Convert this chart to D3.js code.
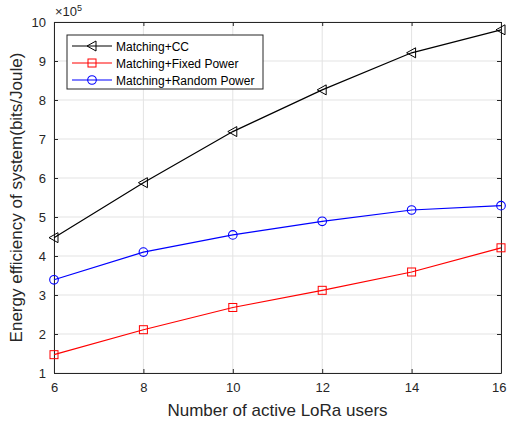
<!DOCTYPE html>
<html>
<head>
<meta charset="utf-8">
<script src="https://cdn.jsdelivr.net/npm/d3@7"></script>
<style>
body { margin:0; background:#fff; }
text { font-family: "Liberation Sans", Arial, sans-serif; }
</style>
</head>
<body>
<script>
// data (x 10^5 bits/Joule)
var users = [6, 8, 10, 12, 14, 16];
var ccVals = [4.47, 5.88, 7.19, 8.26, 9.21, 9.80];
var fixedVals = [1.47, 2.11, 2.68, 3.12, 3.59, 4.21];
var randomVals = [3.39, 4.10, 4.54, 4.89, 5.18, 5.29];
var xTicks = [6, 8, 10, 12, 14, 16];
var yTicks = [1, 2, 3, 4, 5, 6, 7, 8, 9, 10];
var seriesNames = ["Matching+CC", "Matching+Fixed Power", "Matching+Random Power"];

var W = 507, H = 426;
// note: "top" is taken by window.top, so pTop etc.
var pLeft = 54, pRight = 501, pTop = 22, pBottom = 373;

var svg = d3.select('body').append('svg').attr('width', W).attr('height', H);

var x = d3.scaleLinear().domain([6, 16]).range([pLeft, pRight]);
var y = d3.scaleLinear().domain([1, 10]).range([pBottom, pTop]);

// grid
svg.append('g').selectAll('line').data(xTicks).enter().append('line')
  .attr('x1', d => x(d)).attr('x2', d => x(d)).attr('y1', pTop).attr('y2', pBottom)
  .attr('stroke', '#e3e3e3').attr('stroke-width', 1);
svg.append('g').selectAll('line').data(yTicks).enter().append('line')
  .attr('y1', d => y(d)).attr('y2', d => y(d)).attr('x1', pLeft).attr('x2', pRight)
  .attr('stroke', '#e3e3e3').attr('stroke-width', 1);

// axes (inward ticks)
var axB = svg.append('g').attr('transform', 'translate(0,' + pBottom + ')')
  .call(d3.axisBottom(x).tickValues(xTicks).tickSizeInner(-4).tickSizeOuter(0).tickPadding(10));
var axT = svg.append('g').attr('transform', 'translate(0,' + pTop + ')')
  .call(d3.axisTop(x).tickValues(xTicks).tickSizeInner(-4).tickSizeOuter(0).tickFormat(''));
var axL = svg.append('g').attr('transform', 'translate(' + pLeft + ',0)')
  .call(d3.axisLeft(y).tickValues(yTicks).tickSizeInner(-4).tickSizeOuter(0).tickPadding(8));
var axR = svg.append('g').attr('transform', 'translate(' + pRight + ',0)')
  .call(d3.axisRight(y).tickValues(yTicks).tickSizeInner(-4).tickSizeOuter(0).tickFormat(''));
[axB, axT, axL, axR].forEach(function(a){
  a.select('.domain').attr('stroke', '#262626');
  a.selectAll('.tick line').attr('stroke', '#262626');
  a.selectAll('text').attr('font-size', 13).attr('fill', '#262626')
    .style('font-family', '"Liberation Sans", Arial, sans-serif');
});
// last x label sits against the right edge, keep it inside the window
axB.selectAll('.tick text').filter(d => d === 16).attr('text-anchor', 'end').attr('dx', 5);

// exponent
var ex = svg.append('text').attr('x', 55).attr('y', 16).attr('font-size', 13).attr('fill', '#262626');
ex.append('tspan').text('\u00d710');
ex.append('tspan').attr('dy', -5).attr('font-size', 9).text('5');

// axis labels
svg.append('text').attr('x', (pLeft + pRight) / 2).attr('y', 416).attr('text-anchor', 'middle')
  .attr('font-size', 17).attr('fill', '#262626').text('Number of active LoRa users');
svg.append('text').attr('transform', 'translate(22,' + ((pTop + pBottom) / 2) + ') rotate(-90)')
  .attr('text-anchor', 'middle').attr('font-size', 17).attr('fill', '#262626')
  .text('Energy efficiency of system(bits/Joule)');

var line = d3.line().x(d => x(d[0])).y(d => y(d[1]));

function tri(g, cx, cy, col) {
  g.append('path').attr('d', 'M' + (cx - 5) + ',' + cy + 'L' + (cx + 4) + ',' + (cy - 5) + 'L' + (cx + 4) + ',' + (cy + 5) + 'Z')
    .attr('fill', 'none').attr('stroke', col).attr('stroke-width', 1);
}
function sq(g, cx, cy, col) {
  g.append('rect').attr('x', cx - 4).attr('y', cy - 4).attr('width', 8).attr('height', 8)
    .attr('fill', 'none').attr('stroke', col).attr('stroke-width', 1);
}
function circ(g, cx, cy, col) {
  g.append('circle').attr('cx', cx).attr('cy', cy).attr('r', 4.3)
    .attr('fill', 'none').attr('stroke', col).attr('stroke-width', 1.1);
}

var series = [
  { vals: ccVals, col: '#000000', mk: tri },
  { vals: fixedVals, col: '#ff0000', mk: sq },
  { vals: randomVals, col: '#0000ff', mk: circ }
];

series.forEach(function(s) {
  var pts = users.map((u, i) => [u, s.vals[i]]);
  var g = svg.append('g');
  g.append('path').datum(pts).attr('d', line).attr('fill', 'none')
    .attr('stroke', s.col).attr('stroke-width', 1.2);
  pts.forEach(function(p){ s.mk(g, x(p[0]), y(p[1]), s.col); });
});

// legend
var lg = svg.append('g');
lg.append('rect').attr('x', 67).attr('y', 35).attr('width', 196).attr('height', 54)
  .attr('fill', '#fff').attr('stroke', '#262626').attr('stroke-width', 1);
var rowY = [46, 63, 80];
series.forEach(function(s, i) {
  lg.append('line').attr('x1', 72).attr('x2', 112).attr('y1', rowY[i]).attr('y2', rowY[i])
    .attr('stroke', s.col).attr('stroke-width', 1.2);
  s.mk(lg, 92, rowY[i], s.col);
  lg.append('text').attr('x', 116).attr('y', rowY[i] + 4.5).attr('font-size', 12)
    .attr('fill', '#000').text(seriesNames[i]);
});
</script>
</body>
</html>
